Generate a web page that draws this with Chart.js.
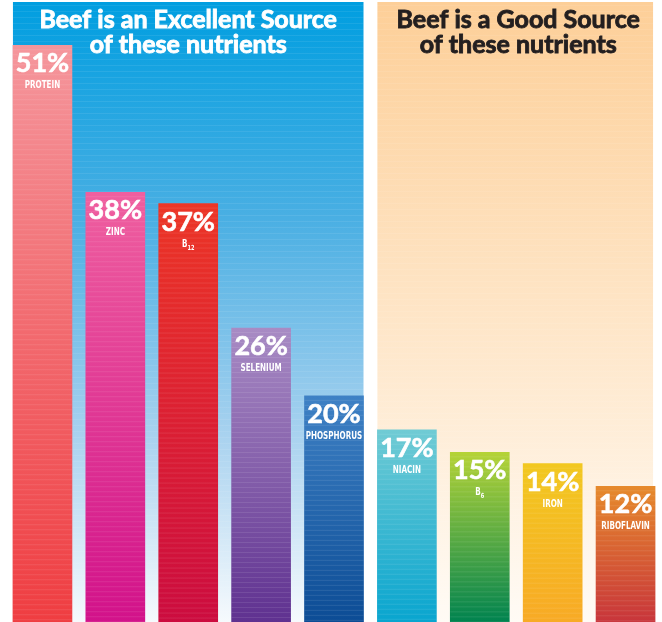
<!DOCTYPE html>
<html lang="en">
<head>
  <meta charset="UTF-8">
  <title>Beef nutrients</title>
  <script src="https://cdn.jsdelivr.net/npm/chart.js"></script>
  <style>
    * { margin: 0; padding: 0; box-sizing: border-box; }
    body { background: #fff; width: 662px; height: 622px; overflow: hidden; }
    canvas { display: block; }
  </style>
</head>
<body>
  <canvas id="beefChart" width="662" height="622"></canvas>

  <script>
    // data
    const nutrients = ['PROTEIN', 'ZINC', 'B', 'SELENIUM', 'PHOSPHORUS', 'NIACIN', 'B', 'IRON', 'RIBOFLAVIN'];
    const subscripts = ['', '', '12', '', '', '', '6', '', ''];
    const dailyValue = [51, 38, 37, 26, 20, 17, 15, 14, 12];
    const excellentCount = 5; // first five bars sit on the blue panel
    const panelTitles = [
      ['Beef is an Excellent Source', 'of these nutrients'],
      ['Beef is a Good Source', 'of these nutrients']
    ];

    // top / bottom colour of each bar
    const topColors = ['#f5969c', '#ef5f9f', '#ec3526', '#a88bc4', '#3e81c5', '#70cbd4', '#b5d336', '#f2c820', '#e68a2b'];
    const bottomColors = ['#ef3d41', '#d2128a', '#cc0c3f', '#5f3190', '#0c4c95', '#08a5cf', '#00834f', '#f8aa25', '#c8353b'];

    const labelFont = '"DejaVu Sans Condensed", "DejaVu Sans", sans-serif';
    const headFont = 'Lato, "Open Sans", sans-serif';

    function barGradient(context) {
      const chart = context.chart;
      if (!chart.chartArea) return topColors[context.dataIndex];
      const y = chart.scales.y;
      const top = y.getPixelForValue(dailyValue[context.dataIndex]);
      const bottom = y.getPixelForValue(0);
      const g = chart.ctx.createLinearGradient(0, top, 0, bottom);
      g.addColorStop(0, topColors[context.dataIndex]);
      g.addColorStop(1, bottomColors[context.dataIndex]);
      return g;
    }

    // text squeezed horizontally, like the narrow print face
    function narrowText(ctx, text, x, y, sx) {
      ctx.save();
      ctx.translate(x, y);
      ctx.scale(sx, 1);
      ctx.fillText(text, 0, 0);
      ctx.restore();
    }

    function boldText(ctx, text, x, y, weight) {
      ctx.fillText(text, x, y);
      ctx.lineWidth = weight;
      ctx.strokeStyle = ctx.fillStyle;
      ctx.strokeText(text, x, y);
    }

    // the two coloured panels behind the bars, with their headings
    const panelsPlugin = {
      id: 'panels',
      beforeDatasetsDraw(chart) {
        const ctx = chart.ctx;
        const bars = chart.getDatasetMeta(0).data;
        const top = chart.chartArea.top + 2;
        const bottom = chart.chartArea.bottom;
        const half = bars[0].width / 2;

        const groups = [
          { from: 0, to: excellentCount - 1, stops: [[0, '#009ee0'], [0.35, '#4aafe3'], [0.7, '#a9d2ef'], [1, '#f6fafd']], text: '#ffffff' },
          { from: excellentCount, to: bars.length - 1, stops: [[0, '#fdcf98'], [0.45, '#fee3c2'], [1, '#fffbf5']], text: '#231f20' }
        ];

        groups.forEach((grp, i) => {
          const left = bars[grp.from].x - half;
          const right = bars[grp.to].x + half - (i === 1 ? 2 : 0);
          const g = ctx.createLinearGradient(0, top, 0, bottom);
          grp.stops.forEach(s => g.addColorStop(s[0], s[1]));
          ctx.save();
          ctx.fillStyle = g;
          ctx.fillRect(left, top, right - left, bottom - top);

          // faint print lines
          ctx.strokeStyle = 'rgba(255,255,255,0.08)';
          ctx.lineWidth = 1;
          for (let yy = top + 3; yy < bottom; yy += 6) {
            ctx.beginPath();
            ctx.moveTo(left, yy + 0.5);
            ctx.lineTo(right, yy + 0.5);
            ctx.stroke();
          }

          ctx.fillStyle = grp.text;
          ctx.font = 'bold 25px ' + headFont;
          ctx.textAlign = 'center';
          ctx.textBaseline = 'alphabetic';
          const cx = (left + right) / 2 + (i === 1 ? 3 : 0);
          boldText(ctx, panelTitles[i][0], cx, 28, 0.9);
          boldText(ctx, panelTitles[i][1], cx, 53, 0.9);
          ctx.restore();
        });
      },
      afterDatasetsDraw(chart) {
        const ctx = chart.ctx;
        const bars = chart.getDatasetMeta(0).data;
        ctx.save();
        bars.forEach((bar, i) => {
          const left = bar.x - bar.width / 2;
          // horizontal stripe texture
          ctx.strokeStyle = 'rgba(255,255,255,0.10)';
          ctx.lineWidth = 1;
          for (let yy = bar.y + 4; yy < bar.base; yy += 5) {
            ctx.beginPath();
            ctx.moveTo(left, yy + 0.5);
            ctx.lineTo(left + bar.width, yy + 0.5);
            ctx.stroke();
          }

          ctx.fillStyle = '#ffffff';
          ctx.textAlign = 'center';
          ctx.textBaseline = 'alphabetic';
          ctx.font = 'bold 27px ' + headFont;
          boldText(ctx, dailyValue[i] + '%', bar.x, bar.y + 27, 0.6);

          const sx = 0.8;
          const name = nutrients[i];
          const sub = subscripts[i];
          ctx.font = 'bold 10px ' + labelFont;
          if (sub) {
            const w1 = ctx.measureText(name).width * sx;
            ctx.font = 'bold 7px ' + labelFont;
            const w2 = ctx.measureText(sub).width * sx;
            const start = bar.x - (w1 + w2) / 2;
            ctx.textAlign = 'left';
            ctx.font = 'bold 10px ' + labelFont;
            narrowText(ctx, name, start, bar.y + 43, sx);
            ctx.font = 'bold 7px ' + labelFont;
            narrowText(ctx, sub, start + w1, bar.y + 46, sx);
          } else {
            narrowText(ctx, name, bar.x, bar.y + 43, sx);
          }
        });
        ctx.restore();
      }
    };

    const ctx = document.getElementById('beefChart').getContext('2d');
    new Chart(ctx, {
      type: 'bar',
      data: {
        labels: nutrients.map((n, i) => n + subscripts[i]),
        datasets: [{
          data: dailyValue,
          backgroundColor: barGradient,
          borderWidth: 0,
          barThickness: 59
        }]
      },
      options: {
        responsive: false,
        animation: false,
        devicePixelRatio: 1,
        layout: { padding: { left: 6, right: 0, top: 0, bottom: 0 } },
        plugins: {
          legend: { display: false },
          tooltip: { enabled: false },
          title: { display: false }
        },
        scales: {
          x: { display: false, grid: { display: false } },
          y: { display: false, min: 0, max: 55 }
        }
      },
      plugins: [panelsPlugin]
    });
  </script>
</body>
</html>
